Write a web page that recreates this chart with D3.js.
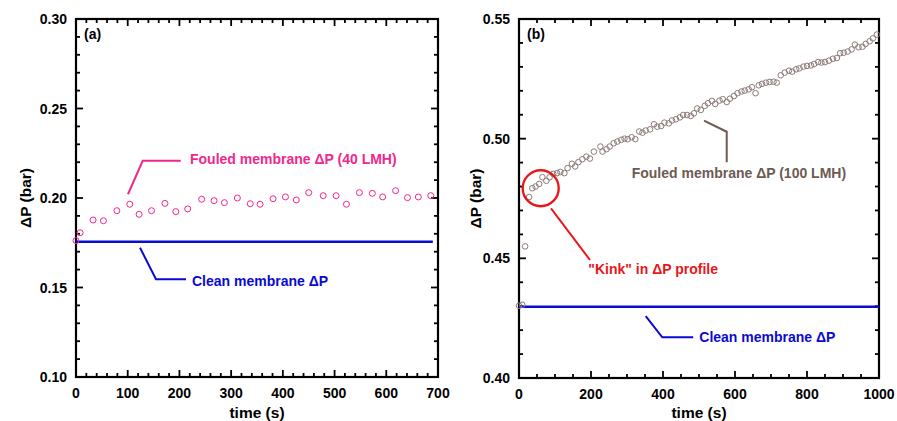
<!DOCTYPE html>
<html>
<head>
<meta charset="utf-8">
<script src="https://cdn.jsdelivr.net/npm/d3@7"></script>
<style>
  body{margin:0;background:#fff;}
  svg{display:block;font-family:"Liberation Sans", Arial, sans-serif;font-weight:bold;}
</style>
</head>
<body>
<div id="chart"></div>
<script>
// panel (a): 40 LMH
const timeA = [0, 8, 33, 53, 79, 104, 122, 146, 172, 193, 216, 243, 267, 287, 312, 337, 356, 381, 405, 426, 450, 478, 503, 523, 548, 573, 593, 618, 641, 662, 686];
const dpA = [0.1762, 0.1806, 0.1877, 0.1873, 0.1929, 0.1965, 0.1909, 0.1929, 0.1970, 0.1924, 0.1939, 0.1993, 0.1985, 0.1974, 0.2000, 0.1968, 0.1965, 0.1996, 0.2006, 0.1989, 0.2030, 0.2013, 0.2013, 0.1965, 0.2030, 0.2026, 0.2006, 0.2041, 0.2002, 0.2006, 0.2013];
const cleanA = 0.1756;
const cleanEndA = 690;

// panel (b): 100 LMH
const timeB = [0, 9, 17, 28, 37, 46, 56, 65, 76, 85, 95, 106, 115, 126, 135, 147, 156, 165, 176, 187, 197, 208, 226, 232, 243, 252, 263, 273, 284, 293, 302, 313, 323, 334, 343, 352, 364, 375, 384, 395, 404, 416, 425, 436, 447, 456, 467, 477, 486, 495, 505, 516, 525, 536, 545, 557, 566, 577, 586, 597, 607, 618, 627, 638, 647, 657, 666, 675, 686, 696, 707, 716, 727, 738, 750, 759, 770, 779, 790, 800, 811, 820, 831, 840, 850, 861, 872, 883, 892, 902, 913, 924, 933, 943, 954, 963, 974, 983, 994];
const dpB = [0.4302, 0.4306, 0.4550, 0.4756, 0.4793, 0.4800, 0.4811, 0.4839, 0.4824, 0.4839, 0.4853, 0.4856, 0.4861, 0.4856, 0.4877, 0.4895, 0.4884, 0.4902, 0.4914, 0.4925, 0.4917, 0.4946, 0.4967, 0.4946, 0.4956, 0.4967, 0.4981, 0.4988, 0.4995, 0.5000, 0.4998, 0.5006, 0.4998, 0.5030, 0.5025, 0.5034, 0.5039, 0.5060, 0.5050, 0.5053, 0.5067, 0.5064, 0.5076, 0.5081, 0.5089, 0.5099, 0.5099, 0.5095, 0.5106, 0.5126, 0.5120, 0.5137, 0.5148, 0.5158, 0.5145, 0.5159, 0.5165, 0.5153, 0.5167, 0.5178, 0.5190, 0.5197, 0.5201, 0.5206, 0.5215, 0.5190, 0.5223, 0.5229, 0.5234, 0.5237, 0.5238, 0.5234, 0.5265, 0.5276, 0.5284, 0.5280, 0.5290, 0.5294, 0.5301, 0.5304, 0.5306, 0.5312, 0.5320, 0.5318, 0.5320, 0.5326, 0.5334, 0.5337, 0.5357, 0.5359, 0.5364, 0.5373, 0.5393, 0.5382, 0.5384, 0.5396, 0.5407, 0.5419, 0.5435];
const cleanB = 0.4298;
const cleanEndB = 1000;

const xTicksA = [0, 100, 200, 300, 400, 500, 600, 700];
const yTicksA = [0.10, 0.15, 0.20, 0.25, 0.30];
const xTicksB = [0, 200, 400, 600, 800, 1000];
const yTicksB = [0.40, 0.45, 0.50, 0.55];

const pink = "#f0288c";
const blue = "#0a0ad2";
const brown = "#6e5a54";
const red = "#e8171b";

const W = 897, H = 421;
const svg = d3.select("#chart").append("svg").attr("width", W).attr("height", H);

const textAttr = (selection, fill, size, anchor) => {
  selection.attr("fill", fill).attr("font-size", size).attr("text-anchor", anchor || "start");
}

const range = (a, b, step) => d3.range(a, b + step / 2, step);

const drawPanel = (p) => {
  const x = d3.scaleLinear().domain(p.xDomain).range([p.left, p.right]);
  const y = d3.scaleLinear().domain(p.yDomain).range([p.bottom, p.top]);
  const g = svg.append("g");

  // inward ticks on all four sides
  const tickGroup = g.append("g").attr("stroke", "#000").attr("stroke-width", 1.8);
  const xMinor = range(p.xDomain[0], p.xDomain[1], p.xMinor);
  const yMinor = range(p.yDomain[0], p.yDomain[1], p.yMinor);
  const isMajor = (v, list) => list.some(t => Math.abs(t - v) < 1e-9);
  xMinor.forEach(v => {
    const len = isMajor(v, p.xTicks) ? 7 : 4;
    tickGroup.append("line").attr("x1", x(v)).attr("x2", x(v)).attr("y1", p.bottom).attr("y2", p.bottom - len);
    tickGroup.append("line").attr("x1", x(v)).attr("x2", x(v)).attr("y1", p.top).attr("y2", p.top + len);
  });
  yMinor.forEach(v => {
    const len = isMajor(v, p.yTicks) ? 7 : 4;
    tickGroup.append("line").attr("y1", y(v)).attr("y2", y(v)).attr("x1", p.left).attr("x2", p.left + len);
    tickGroup.append("line").attr("y1", y(v)).attr("y2", y(v)).attr("x1", p.right).attr("x2", p.right - len);
  });

  g.append("rect").attr("x", p.left).attr("y", p.top)
    .attr("width", p.right - p.left).attr("height", p.bottom - p.top)
    .attr("fill", "none").attr("stroke", "#000").attr("stroke-width", 2.2);

  g.selectAll("text.xt").data(p.xTicks).enter().append("text").attr("class", "xt")
    .attr("x", d => x(d)).attr("y", p.bottom + 21).text(d => d)
    .call(textAttr, "#000", "14px", "middle");
  g.selectAll("text.yt").data(p.yTicks).enter().append("text").attr("class", "yt")
    .attr("x", p.left - 9).attr("y", d => y(d)).attr("dy", "0.36em").text(d => d.toFixed(2))
    .call(textAttr, "#000", "14px", "end");

  g.append("text").attr("x", (p.left + p.right) / 2).attr("y", H - 3).text("time (s)")
    .call(textAttr, "#000", "15.5px", "middle");
  g.append("text").attr("transform", `translate(${p.left - p.titleGap},${(p.top + p.bottom) / 2}) rotate(-90)`)
    .attr("dy", "0.36em").text("ΔP (bar)").call(textAttr, "#000", "15.5px", "middle");
  g.append("text").attr("x", p.left + 8).attr("y", p.top + 20).text(p.label)
    .call(textAttr, "#000", "14px");

  // clean membrane line
  g.append("line").attr("x1", x(0)).attr("x2", x(p.cleanEnd)).attr("y1", y(p.clean)).attr("y2", y(p.clean))
    .attr("stroke", blue).attr("stroke-width", 2.5);

  const pts = p.times.map((t, i) => ({t, v: p.values[i]}));
  g.selectAll("circle.pt").data(pts).enter().append("circle").attr("class", "pt")
    .attr("cx", d => x(d.t)).attr("cy", d => y(d.v)).attr("r", p.r)
    .attr("fill", "none").attr("stroke", p.markColor).attr("stroke-width", 1);

  const line = d3.line().x(d => x(d[0])).y(d => y(d[1]));
  p.notes.forEach(n => {
    g.append("path").attr("d", line(n.path)).attr("fill", "none")
      .attr("stroke", n.color).attr("stroke-width", n.width || 2);
    g.append("text").attr("x", x(n.at[0])).attr("y", y(n.at[1])).attr("dy", "0.36em").text(n.text)
      .call(textAttr, n.color, "14px");
  });
  if (p.circle) {
    g.append("circle").attr("cx", x(p.circle[0])).attr("cy", y(p.circle[1])).attr("r", 18)
      .attr("fill", "none").attr("stroke", red).attr("stroke-width", 2.4);
  }
}

drawPanel({
  left: 76, right: 438, top: 19, bottom: 377, titleGap: 51,
  xDomain: [0, 700], yDomain: [0.10, 0.30], xMinor: 20, yMinor: 0.01,
  xTicks: xTicksA, yTicks: yTicksA, label: "(a)",
  times: timeA, values: dpA, r: 3, markColor: pink,
  clean: cleanA, cleanEnd: cleanEndA,
  notes: [
    {color: pink, path: [[100.5, 0.2021], [129, 0.2208], [202.5, 0.2208]], at: [220.5, 0.2219], text: "Fouled membrane ΔP (40 LMH)"},
    {color: blue, path: [[123.8, 0.1722], [154.7, 0.1546], [212.7, 0.1546]], at: [224.3, 0.1535], text: "Clean membrane ΔP"}
  ]
});

drawPanel({
  left: 519, right: 879, top: 19, bottom: 378, titleGap: 44,
  xDomain: [0, 1000], yDomain: [0.40, 0.55], xMinor: 50, yMinor: 0.01,
  xTicks: xTicksB, yTicks: yTicksB, label: "(b)",
  times: timeB, values: dpB, r: 2.8, markColor: "#8c7a78",
  clean: cleanB, cleanEnd: cleanEndB,
  circle: [60.3, 0.4793],
  notes: [
    {color: brown, path: [[513.9, 0.5075], [577, 0.5029], [577, 0.4901]], at: [313, 0.4857], text: "Fouled membrane ΔP (100 LMH)"},
    {color: red, path: [[88.9, 0.4709], [197.2, 0.4493]], at: [192.5, 0.4454], text: "\"Kink\" in ΔP profile"},
    {color: blue, path: [[352, 0.4259], [398, 0.4170], [484, 0.4170]], at: [500.8, 0.4170], text: "Clean membrane ΔP"}
  ]
});
</script>
</body>
</html>
